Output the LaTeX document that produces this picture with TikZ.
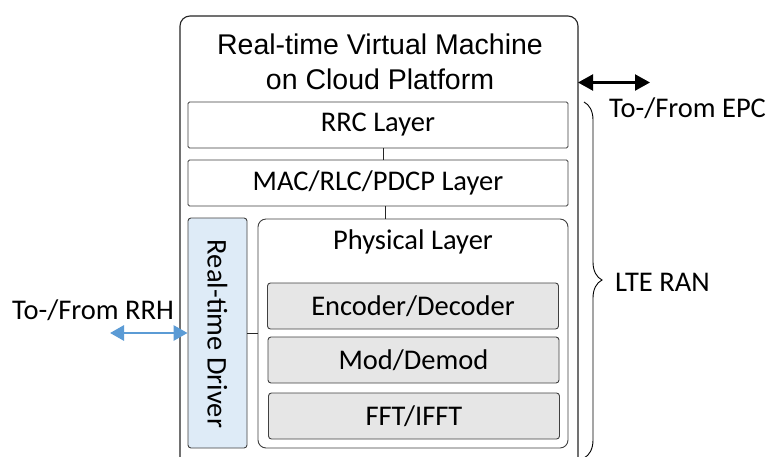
\documentclass[tikz,border=0pt]{standalone}
\usepackage{fontspec}
\setmainfont{Carlito}
\newfontfamily\arialfont{Liberation Sans}
\usetikzlibrary{arrows.meta,decorations.pathreplacing}
\definecolor{edgegray}{HTML}{404040}
\definecolor{drvblue}{HTML}{DEEBF7}
\definecolor{blockgray}{HTML}{E6E6E6}
\definecolor{arrowblue}{HTML}{5B9BD5}
\tikzset{
  layerbox/.style={draw=edgegray, line width=0.9pt, rectangle, rounded corners=1.5pt, inner sep=0pt, font=\fontsize{28.5}{34}\selectfont},
  graybox/.style={layerbox, fill=blockgray, rounded corners=3pt},
  conn/.style={draw=black!85, line width=1pt},
  lbl/.style={inner sep=0pt, font=\fontsize{28.5}{34}\selectfont}
}
\begin{document}
\begin{tikzpicture}[x=1pt,y=-1pt]
\clip (0,0) rectangle (771,456);
\fill[white] (0,0) rectangle (771,456);
% outer box
\draw[black!85, line width=1.1pt, rounded corners=10pt] (180,16) rectangle (578,472);
\node[inner sep=0pt, align=center, font=\arialfont\fontsize{28.5}{35}\selectfont] (title) at (380,62) {Real-time Virtual Machine\\on Cloud Platform};
% layers
\node[layerbox, minimum width=380, minimum height=46] (rrc) at (378,125) {RRC Layer};
\node[layerbox, minimum width=380, minimum height=46] (mac) at (378,183) {MAC/RLC/PDCP Layer};
\node[layerbox, rounded corners=8pt, minimum width=310, minimum height=229] (phy) at (413,333.5) {};
\node[lbl] (phylbl) at (413,242) {Physical Layer};
\node[graybox, minimum width=291, minimum height=46] (enc) at (413,306) {Encoder/Decoder};
\node[graybox, minimum width=291, minimum height=46] (mod) at (413.5,360) {Mod/Demod};
\node[graybox, minimum width=291, minimum height=46] (fft) at (414,416) {FFT/IFFT};
\node[layerbox, fill=drvblue, rounded corners=3pt, minimum width=59, minimum height=230] (drv) at (217.5,333) {};
\node[lbl, rotate=-90] (drvlbl) at (217.5,334) {Real-time Driver};
% connectors
\draw[conn] (rrc.south -| 383,0) -- (mac.north -| 383,0);
\draw[conn] (mac.south -| 385,0) -- (phy.north -| 385,0);
\draw[conn] (drv.east |- 0,333) -- (phy.west |- 0,333);
% external
\coordinate (rrhend) at (110,333);
\draw[arrowblue, line width=2.8pt, {Triangle[length=14pt,width=15pt]}-{Triangle[length=14pt,width=15pt]}] (rrhend) -- (drv.west |- rrhend);
\node[lbl, anchor=east] (rrh) at (174,310) {To-/From RRH};
\coordinate (epcstart) at (578,82.5);
\coordinate (epcend) at (650,82.5);
\draw[black, line width=2.2pt, {Triangle[length=15pt,width=16pt]}-{Triangle[length=15pt,width=16pt]}] (epcstart) -- (epcend);
\node[lbl, anchor=west] (epc) at (609,108) {To-/From EPC};
\coordinate (bracetop) at (584,102);
\coordinate (bracebot) at (584,458);
\draw[black, line width=0.9pt, decorate, decoration={brace, amplitude=18pt}] (bracetop) -- (bracebot);
\node[lbl, anchor=west] (ran) at (615,282) {LTE RAN};
\end{tikzpicture}
\end{document}
